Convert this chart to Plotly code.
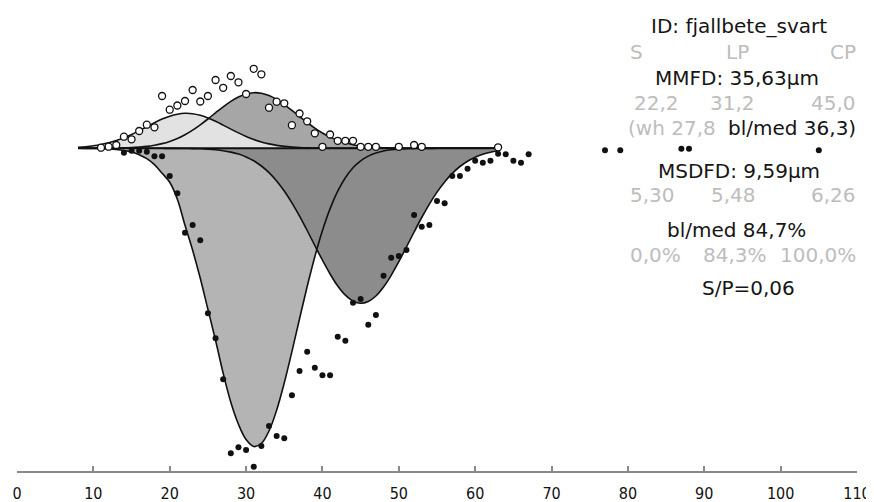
import plotly.graph_objects as go

# ---- data ----
curve_x = [8, 9, 10, 11, 12, 13, 14, 15, 16, 17, 18, 19, 20, 21, 22, 23, 24, 25, 26, 27,
           28, 29, 30, 31, 32, 33, 34, 35, 36, 37, 38, 39, 40, 41, 42, 43, 44, 45, 46, 47,
           48, 49, 50, 51, 52, 53, 54, 55, 56, 57, 58, 59, 60, 61, 62, 63]

# upper fitted curves (white-circle sample)
top_s = [0.10, 0.16, 0.25, 0.38, 0.55, 0.78, 1.06, 1.39, 1.77, 2.16, 2.56, 2.92, 3.21, 3.41,
         3.50, 3.46, 3.30, 3.04, 2.71, 2.32, 1.92, 1.54, 1.19, 0.88, 0.63, 0.44, 0.29, 0.19,
         0.12, 0.07, 0.04, 0.02, 0.01, 0.01, 0, 0, 0, 0, 0, 0, 0, 0, 0, 0, 0, 0, 0, 0, 0, 0,
         0, 0, 0, 0, 0, 0]
top_lp = [0, 0, 0, 0.01, 0.01, 0.02, 0.04, 0.07, 0.12, 0.19, 0.31, 0.47, 0.69, 0.98, 1.36,
          1.82, 2.35, 2.93, 3.55, 4.15, 4.69, 5.13, 5.43, 5.56, 5.50, 5.27, 4.88, 4.37, 3.79,
          3.18, 2.58, 2.02, 1.53, 1.12, 0.80, 0.55, 0.36, 0.23, 0.15, 0.09, 0.05, 0.03, 0.02,
          0.01, 0, 0, 0, 0, 0, 0, 0, 0, 0, 0, 0, 0]

# lower fitted curves (black-dot sample)
bot_lp = [0, -0.01, -0.02, -0.03, -0.06, -0.12, -0.22, -0.38, -0.64, -1.04, -1.64, -2.50,
          -3.40, -5.10, -7.70, -10.20, -13.00, -16.10, -19.20, -22.50, -25.40, -27.60,
          -29.13, -29.82, -29.52, -28.27, -26.19, -23.46, -20.33, -17.04, -13.82, -10.84,
          -8.22, -6.03, -4.28, -2.94, -1.95, -1.25, -0.78, -0.47, -0.27, -0.15, -0.08, -0.04,
          -0.02, -0.01, -0.01, 0, 0, 0, 0, 0, 0, 0, 0, 0]
bot_cp = [0, 0, 0, 0, 0, 0, 0, 0, 0, 0, 0, 0, -0.01, -0.01, -0.02, -0.03, -0.05, -0.09,
          -0.15, -0.24, -0.38, -0.58, -0.86, -1.25, -1.77, -2.43, -3.26, -4.27, -5.45, -6.78,
          -8.22, -9.72, -11.19, -12.57, -13.77, -14.69, -15.28, -15.50, -15.32, -14.77,
          -13.87, -12.70, -11.34, -9.87, -8.37, -6.92, -5.58, -4.38, -3.36, -2.51, -1.82,
          -1.29, -0.90, -0.60, -0.40, -0.25]

# upper sample (white circles)
top_pts_x = [11, 12, 13, 14, 15, 16, 17, 18, 19, 20, 21, 22, 23, 24, 25, 26, 27, 28, 29, 30,
             31, 32, 33, 34, 35, 36, 37, 38, 39, 40, 41, 42, 43, 44, 45, 46, 47, 50, 52, 53, 63]
top_pts_y = [0.06, 0.16, 0.33, 1.16, 0.90, 1.73, 2.36, 2.10, 5.23, 3.86, 4.28, 4.73, 5.83,
             4.68, 5.23, 6.83, 6.05, 7.23, 6.60, 5.43, 7.95, 7.40, 4.06, 4.66, 4.50, 2.31,
             3.48, 2.70, 1.50, 0.15, 1.38, 0.75, 0.75, 0.75, 0.15, 0.15, 0.15, 0.15, 0.33,
             0.15, 0.10]

# lower sample (black dots)
bot_pts_x = [14, 15, 16, 17, 18, 19, 20, 21, 22, 23, 24, 25, 26, 27, 28, 29, 30, 31, 32, 33,
             34, 35, 36, 37, 38, 39, 40, 41, 42, 43, 44, 45, 46, 47, 48, 49, 50, 51, 52, 53,
             54, 55, 56, 57, 58, 59, 60, 61, 62, 63, 64, 65, 66, 67, 77, 79, 87, 88, 105]
bot_pts_y = [-0.45, -0.25, -0.25, -0.35, -0.80, -0.80, -2.77, -4.50, -8.44, -7.67, -9.20,
             -16.50, -19.00, -23.10, -30.50, -29.90, -30.17, -31.84, -29.77, -27.77, -28.77,
             -29.00, -24.70, -22.27, -20.34, -21.94, -22.70, -22.70, -18.84, -19.24, -15.44,
             -15.07, -17.64, -16.67, -12.74, -10.94, -10.77, -10.17, -6.67, -7.84, -7.67,
             -5.27, -5.50, -2.77, -2.77, -2.04, -1.24, -1.44, -1.24, -0.55, -0.60, -1.24,
             -1.44, -0.60, -0.20, -0.20, -0.05, -0.05, -0.20]

tick_vals = [0, 10, 20, 30, 40, 50, 60, 70, 80, 90, 100, 110]
tick_text = ["0", "10", "20", "30", "40", "50", "60", "70", "80", "90", "100", "110"]

# ---- layout constants ----
# the page body keeps the browser's default 8px margin, so the figure is drawn
# 8px smaller and everything is placed in page coordinates minus that offset
OFF = 8
W, H = 874 - OFF, 502 - OFF
ML, MR, MT, MB = 17 - OFF, 17, 0, 31
PW, PH = W - ML - MR, H - MT - MB

C_TOP_S = "#e2e2e2"
C_TOP_LP = "#a6a6a6"
C_BOT_LP = "#b4b4b4"
C_BOT_CP = "#8c8c8c"
GRAY_TXT = "#bdbdbd"
BLACK_TXT = "#151515"

fig = go.Figure()

def add_fill(y, color):
    fig.add_trace(go.Scatter(x=curve_x, y=y, mode="lines",
                             line=dict(width=0, shape="spline", color=color),
                             fill="tozeroy", fillcolor=color, hoverinfo="skip"))

def add_line(y):
    fig.add_trace(go.Scatter(x=curve_x, y=y, mode="lines",
                             line=dict(width=1.6, shape="spline", color="#111111"),
                             hoverinfo="skip"))

add_fill(bot_lp, C_BOT_LP)
add_fill(bot_cp, C_BOT_CP)
add_fill(top_lp, C_TOP_LP)
add_fill(top_s, C_TOP_S)
for ys in (bot_lp, bot_cp, top_lp, top_s):
    add_line(ys)

# baseline
fig.add_trace(go.Scatter(x=[curve_x[0], curve_x[-1]], y=[0, 0], mode="lines",
                         line=dict(width=2, color="#111111"), hoverinfo="skip"))

fig.add_trace(go.Scatter(x=bot_pts_x, y=bot_pts_y, mode="markers",
                         marker=dict(size=6, color="#111111", line=dict(width=0)),
                         cliponaxis=False, hoverinfo="skip"))
fig.add_trace(go.Scatter(x=top_pts_x, y=top_pts_y, mode="markers",
                         marker=dict(size=7, color="white", line=dict(width=1.3, color="#111111")),
                         cliponaxis=False, hoverinfo="skip"))

def ann(text, px, py, color, anchor="center"):
    fx, fy = px - OFF, py - OFF
    fig.add_annotation(x=(fx - ML) / PW, y=(H - MB - fy) / PH, xref="paper", yref="paper",
                       text=text, showarrow=False, xanchor=anchor, yanchor="middle",
                       font=dict(family="DejaVu Sans", size=20, color=color))

ann("ID: fjallbete_svart", 739, 26, BLACK_TXT)
ann("S", 628, 52, GRAY_TXT, "left")
ann("LP", 737, 52, GRAY_TXT)
ann("CP", 858, 52, GRAY_TXT, "right")
ann("MMFD: 35,63µm", 737, 78.5, BLACK_TXT)
ann("22,2", 632, 103.3, GRAY_TXT, "left")
ann("31,2", 732, 103.3, GRAY_TXT)
ann("45,0", 858, 103.3, GRAY_TXT, "right")
ann("(wh 27,8", 626, 128.3, GRAY_TXT, "left")
ann("bl/med 36,3)", 858, 128.3, BLACK_TXT, "right")
ann("MSDFD: 9,59µm", 738.5, 170.8, BLACK_TXT)
ann("5,30", 628, 195, GRAY_TXT, "left")
ann("5,48", 733.5, 195, GRAY_TXT)
ann("6,26", 858, 195, GRAY_TXT, "right")
ann("bl/med 84,7%", 736, 230, BLACK_TXT)
ann("0,0%", 628, 255, GRAY_TXT, "left")
ann("84,3%", 735, 255, GRAY_TXT)
ann("100,0%", 858, 255, GRAY_TXT, "right")
ann("S/P=0,06", 748.5, 287.5, BLACK_TXT)

fig.update_layout(
    width=W, height=H, margin=dict(l=ML, r=MR, t=MT, b=MB, pad=0),
    paper_bgcolor="white", plot_bgcolor="white", showlegend=False,
    xaxis=dict(range=[0, 110], tickvals=tick_vals, ticktext=tick_text,
               showline=True, linecolor="#8a8a8a", linewidth=2,
               ticks="inside", ticklen=5, tickwidth=1.5, tickcolor="#8a8a8a",
               ticklabelstandoff=7,
               showgrid=False, zeroline=False, fixedrange=True,
               tickfont=dict(family="Liberation Sans Narrow, DejaVu Sans Condensed, Liberation Sans",
                             size=16, color="#111111")),
    yaxis=dict(range=[-32.27, 14.03], visible=False, fixedrange=True),
)

fig.write_html("out.html")
